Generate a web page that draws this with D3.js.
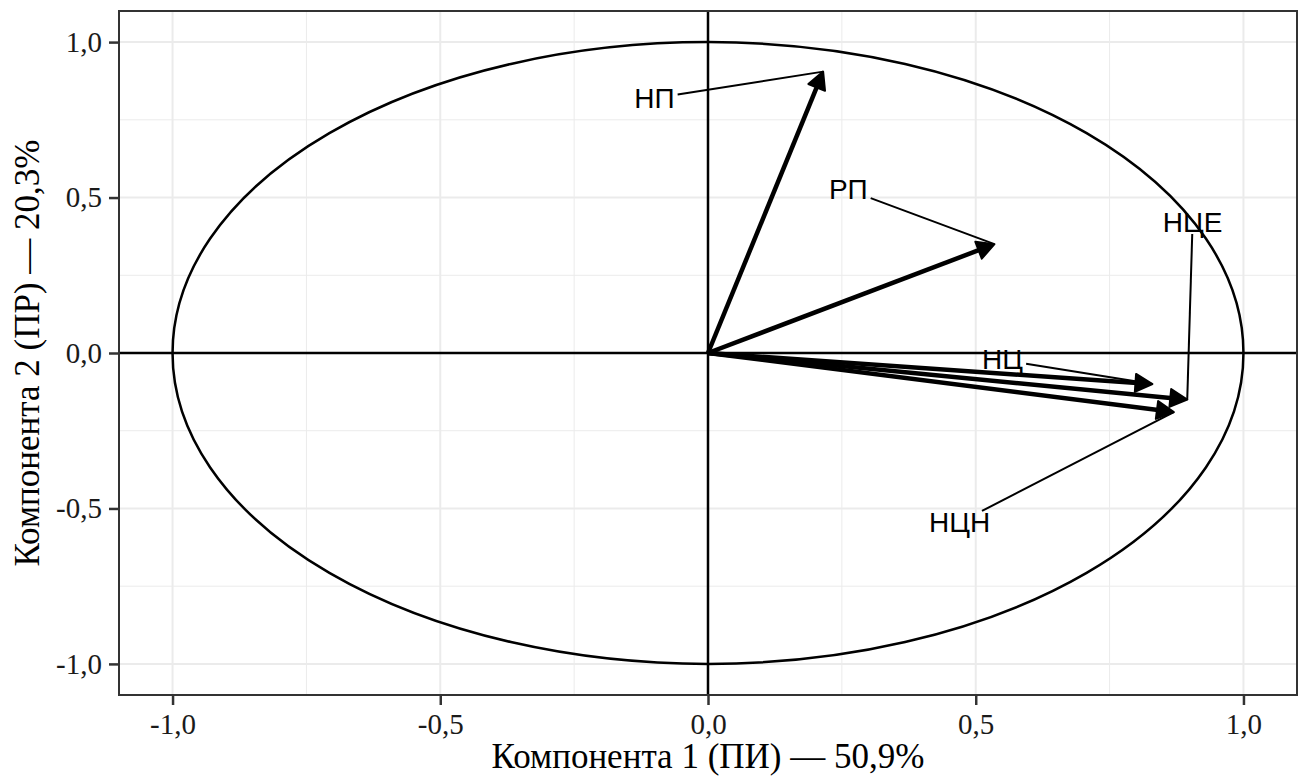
<!DOCTYPE html>
<html>
<head>
<meta charset="utf-8">
<script src="https://cdn.jsdelivr.net/npm/d3@7"></script>
<style>
  body { margin: 0; background: #fff; }
  svg { display: block; }
</style>
</head>
<body>
<svg width="1304" height="778"></svg>
<script>
// loadings of the variables on the first two components
const variables = ['НП', 'РП', 'НЦ', 'НЦЕ', 'НЦН'];
const pc1 = [0.215, 0.535, 0.83, 0.895, 0.87];
const pc2 = [0.905, 0.35, -0.10, -0.15, -0.19];
// where the repelled labels ended up
const labelPc1 = [-0.10, 0.262, 0.55, 0.905, 0.47];
const labelPc2 = [0.82, 0.525, -0.022, 0.42, -0.545];

const majorTicks = [-1, -0.5, 0, 0.5, 1];
const minorTicks = [-0.75, -0.25, 0.25, 0.75];
const xTitle = 'Компонента 1 (ПИ) — 50,9%';
const yTitle = 'Компонента 2 (ПР) — 20,3%';

const panel = {left: 119, right: 1297, top: 11, bottom: 695};
const svg = d3.select('svg');

const x = d3.scaleLinear().domain([-1.1, 1.1]).range([panel.left, panel.right]);
const y = d3.scaleLinear().domain([-1.1, 1.1]).range([panel.bottom, panel.top]);

const ru = d3.formatLocale({decimal: ',', thousands: ' ', grouping: [3], currency: ['', ''], minus: '-'});
const fmt = ru.format('.1f');

// grid
const grid = svg.append('g').attr('class', 'grid');
grid.selectAll('.minor-x').data(minorTicks).join('line')
    .attr('x1', d => x(d)).attr('x2', d => x(d))
    .attr('y1', panel.top).attr('y2', panel.bottom)
    .attr('stroke', '#ebebeb').attr('stroke-width', 1);
grid.selectAll('.minor-y').data(minorTicks).join('line')
    .attr('y1', d => y(d)).attr('y2', d => y(d))
    .attr('x1', panel.left).attr('x2', panel.right)
    .attr('stroke', '#ebebeb').attr('stroke-width', 1);
grid.selectAll('.major-x').data(majorTicks).join('line')
    .attr('x1', d => x(d)).attr('x2', d => x(d))
    .attr('y1', panel.top).attr('y2', panel.bottom)
    .attr('stroke', '#ebebeb').attr('stroke-width', 2);
grid.selectAll('.major-y').data(majorTicks).join('line')
    .attr('y1', d => y(d)).attr('y2', d => y(d))
    .attr('x1', panel.left).attr('x2', panel.right)
    .attr('stroke', '#ebebeb').attr('stroke-width', 2);

// unit circle (ellipse, axes are not equal)
svg.append('ellipse')
    .attr('cx', x(0)).attr('cy', y(0))
    .attr('rx', x(1) - x(0)).attr('ry', y(0) - y(1))
    .attr('fill', 'none').attr('stroke', '#000').attr('stroke-width', 2.5);

// zero lines
svg.append('line')
    .attr('x1', panel.left).attr('x2', panel.right)
    .attr('y1', y(0)).attr('y2', y(0))
    .attr('stroke', '#000').attr('stroke-width', 2.5);
svg.append('line')
    .attr('x1', x(0)).attr('x2', x(0))
    .attr('y1', panel.top).attr('y2', panel.bottom)
    .attr('stroke', '#000').attr('stroke-width', 2.5);

// arrows
const rows = variables.map((v, i) => ({name: v, px: pc1[i], py: pc2[i], lx: labelPc1[i], ly: labelPc2[i]}));
const headLen = 17, headHalf = 9;

const arrows = svg.append('g').attr('class', 'arrows')
    .selectAll('g').data(rows).join('g');

arrows.each(function(d) {
    const g = d3.select(this);
    const x0 = x(0), y0 = y(0), x1 = x(d.px), y1 = y(d.py);
    const len = Math.hypot(x1 - x0, y1 - y0);
    const ux = (x1 - x0) / len, uy = (y1 - y0) / len;
    const bx = x1 - ux * headLen, by = y1 - uy * headLen;
    g.append('line')
        .attr('x1', x0).attr('y1', y0)
        .attr('x2', x1 - ux * headLen * 0.7).attr('y2', y1 - uy * headLen * 0.7)
        .attr('stroke', '#000').attr('stroke-width', 4.5);
    g.append('path')
        .attr('d', `M${x1},${y1}L${bx - uy * headHalf},${by + ux * headHalf}L${bx + uy * headHalf},${by - ux * headHalf}Z`)
        .attr('fill', '#000').attr('stroke', '#000').attr('stroke-width', 2)
        .attr('stroke-linejoin', 'round');
});

// labels with segments
const labels = svg.append('g').attr('class', 'labels')
    .selectAll('g').data(rows).join('g');

labels.append('text')
    .attr('x', d => x(d.lx)).attr('y', d => y(d.ly))
    .attr('text-anchor', 'middle')
    .attr('dominant-baseline', 'central')
    .attr('font-family', '"Liberation Sans", Arial, sans-serif')
    .attr('font-size', 28)
    .attr('fill', '#000')
    .text(d => d.name);

labels.each(function(d) {
    const g = d3.select(this);
    const bb = g.select('text').node().getBBox();
    const pad = 3;
    const cx = x(d.lx), cy = y(d.ly);
    const hw = bb.width / 2 + pad, hh = bb.height / 2 - 4;
    const tx = x(d.px), ty = y(d.py);
    const dx = tx - cx, dy = ty - cy;
    const t = Math.min(Math.abs(hw / dx) || Infinity, Math.abs(hh / dy) || Infinity);
    g.insert('line', 'text')
        .attr('x1', cx + dx * t).attr('y1', cy + dy * t)
        .attr('x2', tx).attr('y2', ty)
        .attr('stroke', '#000').attr('stroke-width', 2);
});

// panel border
svg.append('rect')
    .attr('x', panel.left).attr('y', panel.top)
    .attr('width', panel.right - panel.left).attr('height', panel.bottom - panel.top)
    .attr('fill', 'none').attr('stroke', '#333').attr('stroke-width', 2);

// axes
const serif = '"Liberation Serif", "Times New Roman", serif';
const xAxis = svg.append('g')
    .attr('transform', `translate(0,${panel.bottom})`)
    .call(d3.axisBottom(x).tickValues(majorTicks).tickFormat(fmt).tickSize(10).tickPadding(8));
const yAxis = svg.append('g')
    .attr('transform', `translate(${panel.left},0)`)
    .call(d3.axisLeft(y).tickValues(majorTicks).tickFormat(fmt).tickSize(10).tickPadding(7));
[xAxis, yAxis].forEach(a => {
    a.select('.domain').remove();
    a.selectAll('.tick line').attr('stroke', '#333').attr('stroke-width', 2.5);
    a.selectAll('.tick text')
        .attr('font-family', serif).attr('font-size', 29).attr('fill', '#1a1a1a');
});

svg.append('text')
    .attr('x', (panel.left + panel.right) / 2).attr('y', 768)
    .attr('text-anchor', 'middle')
    .attr('font-family', serif).attr('font-size', 35)
    .text(xTitle);
svg.append('text')
    .attr('transform', `translate(39,${(panel.top + panel.bottom) / 2}) rotate(-90)`)
    .attr('text-anchor', 'middle')
    .attr('font-family', serif).attr('font-size', 35)
    .text(yTitle);
</script>
</body>
</html>
